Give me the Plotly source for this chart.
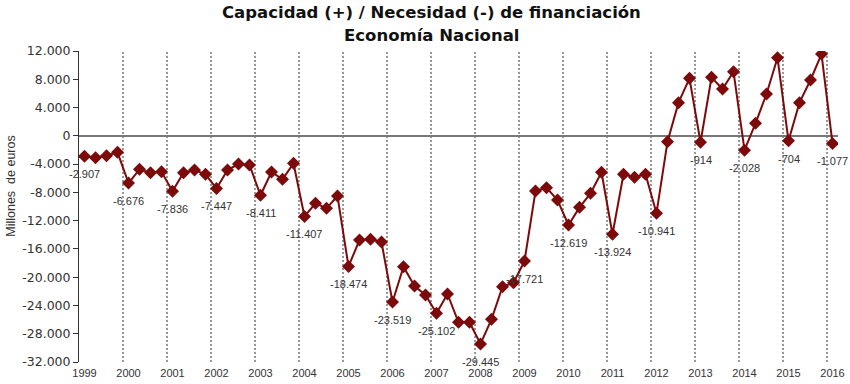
import plotly.graph_objects as go

# ---- data (millones de euros, trimestral 1999T1 - 2016T1) ----
years = ["1999", "2000", "2001", "2002", "2003", "2004", "2005", "2006", "2007",
         "2008", "2009", "2010", "2011", "2012", "2013", "2014", "2015", "2016"]
quarters = ["T1", "T2", "T3", "T4"]

values = [
    -2907, -3100, -2815, -2335,      # 1999
    -6676, -4740, -5220, -5080,      # 2000
    -7836, -5220, -4840, -5450,      # 2001
    -7447, -4840, -3990, -4130,      # 2002
    -8411, -5120, -6150, -3890,      # 2003
    -11407, -9550, -10260, -8520,    # 2004
    -18474, -14740, -14640, -15030,  # 2005
    -23519, -18520, -21250, -22520,  # 2006
    -25102, -22380, -26390, -26390,  # 2007
    -29445, -25960, -21350, -20780,  # 2008
    -17721, -7810, -7340, -9080,     # 2009
    -12619, -10120, -8140, -5160,    # 2010
    -13924, -5450, -5870, -5450,     # 2011
    -10941, -830, 4690, 8130,        # 2012
    -914, 8270, 6620, 9070,          # 2013
    -2028, 1770, 5910, 11050,        # 2014
    -704, 4690, 7900, 11570,         # 2015
    -1077,                           # 2016
]

y_ticks = [12000, 8000, 4000, 0, -4000, -8000, -12000, -16000,
           -20000, -24000, -28000, -32000]

title_lines = ["Capacidad (+) / Necesidad (-) de financiación", "Economía Nacional"]
y_title = "Millones  de euros"

periods = [f"{y}{q}" for y in years for q in quarters][:len(values)]


def fmt(v):
    s = f"{abs(int(round(v))):,}".replace(",", ".")
    return ("-" if v < 0 else "") + s


RED = "#7d0a0a"
SANS = "Liberation Sans, Arial, sans-serif"

fig = go.Figure()
fig.add_trace(go.Scatter(
    x=periods, y=values, mode="lines+markers",
    line=dict(color=RED, width=2),
    marker=dict(symbol="diamond", size=10, color=RED),
    hoverinfo="x+y", showlegend=False,
))

annotations = []
# labels for first quarter of each year
for k, yr in enumerate(years):
    i = 4 * k
    if i < len(values):
        annotations.append(dict(
            x=periods[i], y=values[i], xref="x", yref="y",
            text=fmt(values[i]), showarrow=False, yshift=-18,
            font=dict(family=SANS, size=11, color="#333333"),
        ))

annotations.append(dict(
    text=y_title, textangle=-90, showarrow=False,
    xref="paper", yref="paper", x=-0.089, y=0.565, xanchor="center", yanchor="middle",
    font=dict(family=SANS, size=12.5, color="#333333"),
))

# title (two lines)
for line_txt, ypos in zip(title_lines, [1.123, 1.050]):
    annotations.append(dict(
        text=f"<b>{line_txt}</b>", showarrow=False,
        xref="paper", yref="paper", x=0.4645, y=ypos, xanchor="center", yanchor="middle",
        font=dict(family="DejaVu Sans, sans-serif", size=16.5, color="#111111"),
    ))

# dashed separators between years
shapes = []
for k in range(1, len(years)):
    xpos = 4 * k - 0.5
    shapes.append(dict(
        type="line", xref="x", yref="y", x0=xpos, x1=xpos,
        y0=y_ticks[-1], y1=y_ticks[0],
        line=dict(color="#333333", width=1, dash="2px,2px"), layer="below",
    ))

fig.update_layout(
    width=850, height=384,
    margin=dict(l=79, r=12, t=51, b=22, autoexpand=False),
    paper_bgcolor="white", plot_bgcolor="white",
    xaxis=dict(
        type="category", categoryorder="array", categoryarray=periods,
        range=[-0.5, len(values) - 0.5], automargin=False,
        tickmode="array", tickvals=[periods[4 * k] for k in range(len(years))],
        ticktext=years, showgrid=False, zeroline=False, showline=False, ticks="",
        tickfont=dict(family=SANS, size=11, color="#333333"),
        ticklabelstandoff=3,
    ),
    yaxis=dict(
        range=[y_ticks[-1], y_ticks[0]], automargin=False,
        tickmode="array", tickvals=y_ticks, ticktext=[fmt(v) for v in y_ticks],
        showgrid=False, zeroline=True, zerolinecolor="#787878", zerolinewidth=2,
        showline=True, linecolor="#333333", linewidth=1,
        ticks="outside", ticklen=5, tickcolor="#333333",
        tickfont=dict(family="DejaVu Sans, sans-serif", size=12.5, color="#333333"),
    ),
    annotations=annotations, shapes=shapes,
)

fig.write_html(
    "out.html",
    config={"displayModeBar": False},
    post_script="document.body.style.margin='0px';document.body.style.overflow='hidden';",
)
